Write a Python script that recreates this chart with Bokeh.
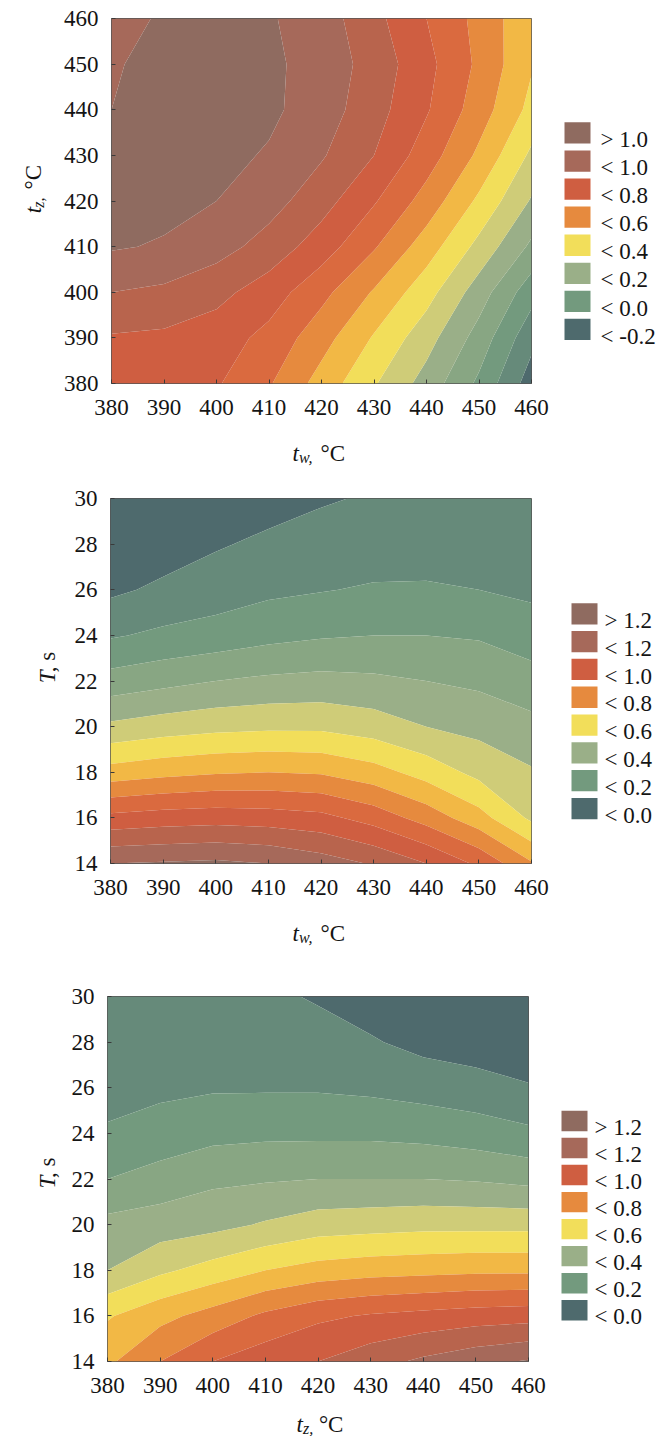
import numpy as np
from bokeh.plotting import figure
from bokeh.layouts import column, row
from bokeh.models import Range1d, FixedTicker
from bokeh.core.properties import value
from bokeh.embed import file_html
from bokeh.resources import INLINE

# ---------------- data ----------------
tw_values = [380, 390, 400, 410, 420, 430, 440, 450, 460]
tz_values = [380, 390, 400, 410, 420, 430, 440, 450, 460]
T_values = [14, 16, 18, 20, 22, 24, 26, 28, 30]

temp_ticks = [380, 390, 400, 410, 420, 430, 440, 450, 460]
T_ticks = [14, 16, 18, 20, 22, 24, 26, 28, 30]

# chart 1: rows = tz (380..460), columns = tw (380..460)
z_tw_tz = [
    [0.74, 0.73, 0.71, 0.61, 0.46, 0.31, 0.16, -0.02, -0.25],
    [0.79, 0.78, 0.75, 0.67, 0.54, 0.39, 0.24, 0.06, -0.17],
    [0.90, 0.88, 0.83, 0.75, 0.63, 0.49, 0.34, 0.15, -0.06],
    [1.01, 0.99, 0.94, 0.86, 0.75, 0.61, 0.45, 0.27, 0.08],
    [1.03, 1.03, 1.00, 0.94, 0.84, 0.71, 0.56, 0.38, 0.19],
    [1.02, 1.04, 1.03, 0.99, 0.91, 0.80, 0.65, 0.48, 0.28],
    [1.00, 1.04, 1.05, 1.02, 0.95, 0.84, 0.71, 0.55, 0.37],
    [0.99, 1.03, 1.04, 1.02, 0.96, 0.86, 0.73, 0.58, 0.41],
    [0.97, 1.01, 1.02, 1.01, 0.95, 0.83, 0.70, 0.57, 0.42],
]

# chart 2: rows = T (14..30), columns = tw (380..460)
z_tw_T = [
    [1.20, 1.21, 1.22, 1.20, 1.15, 1.09, 1.00, 0.88, 0.71],
    [0.93, 0.95, 0.96, 0.95, 0.93, 0.86, 0.76, 0.64, 0.48],
    [0.64, 0.67, 0.69, 0.70, 0.69, 0.64, 0.56, 0.47, 0.41],
    [0.42, 0.45, 0.47, 0.48, 0.48, 0.45, 0.40, 0.37, 0.33],
    [0.24, 0.27, 0.30, 0.32, 0.33, 0.32, 0.30, 0.28, 0.24],
    [0.09, 0.12, 0.14, 0.17, 0.19, 0.20, 0.20, 0.19, 0.15],
    [-0.02, 0.02, 0.05, 0.08, 0.095, 0.11, 0.11, 0.10, 0.08],
    [-0.10, -0.05, -0.01, 0.02, 0.04, 0.05, 0.06, 0.05, 0.05],
    [-0.15, -0.11, -0.07, -0.04, -0.01, 0.01, 0.03, 0.03, 0.04],
]

# chart 3: rows = T (14..30), columns = tz (380..460)
z_tz_T = [
    [0.68, 0.80, 0.90, 0.96, 1.00, 1.06, 1.12, 1.17, 1.21],
    [0.59, 0.67, 0.74, 0.82, 0.88, 0.91, 0.93, 0.95, 0.96],
    [0.40, 0.48, 0.54, 0.60, 0.64, 0.66, 0.67, 0.68, 0.68],
    [0.33, 0.35, 0.37, 0.41, 0.45, 0.46, 0.47, 0.47, 0.47],
    [0.20, 0.24, 0.28, 0.29, 0.30, 0.30, 0.30, 0.29, 0.27],
    [0.11, 0.14, 0.17, 0.18, 0.18, 0.18, 0.17, 0.15, 0.12],
    [0.07, 0.08, 0.09, 0.09, 0.09, 0.08, 0.06, 0.04, 0.01],
    [0.04, 0.05, 0.06, 0.05, 0.04, 0.01, -0.03, -0.05, -0.08],
    [0.03, 0.04, 0.04, 0.02, -0.01, -0.05, -0.10, -0.12, -0.14],
]

levels_tw_tz = [-1.0, -0.2, -0.1, 0.0, 0.1, 0.2, 0.3, 0.4, 0.5, 0.6, 0.7, 0.8, 0.9, 1.0, 2.0]
levels_T = [-1.0, 0.0, 0.1, 0.2, 0.3, 0.4, 0.5, 0.6, 0.7, 0.8, 0.9, 1.0, 1.1, 1.2, 2.0]

legend_tw_tz = ["> 1.0", "< 1.0", "< 0.8", "< 0.6", "< 0.4", "< 0.2", "< 0.0", "< -0.2"]
legend_T = ["> 1.2", "< 1.2", "< 1.0", "< 0.8", "< 0.6", "< 0.4", "< 0.2", "< 0.0"]

# ---------------- style ----------------
BAND_COLORS = ["#4E6A6D", "#668A7A", "#739A7E", "#88A683", "#9AAF88", "#CFCC78",
               "#F2DE5A", "#F2B845", "#E68A3E", "#DA6A3F", "#CF5E41", "#B8644D",
               "#A6695A", "#8F6B60"]
LEGEND_BANDS = [13, 12, 10, 8, 6, 4, 2, 0]

FONT = "Liberation Serif"
FS = "23px"
SUB_FS = "16px"
INK = "#141414"


def style_axis(ax, ticks, standoff):
    ax.ticker = FixedTicker(ticks=ticks)
    ax.axis_line_color = None
    ax.major_tick_in = 4
    ax.major_tick_out = 0
    ax.major_tick_line_color = "#3a3a3a"
    ax.minor_tick_line_color = None
    ax.major_label_text_font = FONT
    ax.major_label_text_font_size = FS
    ax.major_label_text_color = INK
    ax.major_label_standoff = standoff


def bare_fig(w, h):
    f = figure(width=w, height=h, x_range=Range1d(0, w), y_range=Range1d(0, h),
               output_backend="svg", toolbar_location=None,
               x_axis_type=None, y_axis_type=None, min_border=0,
               outline_line_color=None)
    f.grid.visible = False
    return f


def main_fig(xv, yv, z, levels, xticks, yticks, height, bl, bt):
    p = figure(width=bl + 421 + 20, height=height,
               x_range=Range1d(xv[0], xv[-1]), y_range=Range1d(yv[0], yv[-1]),
               output_backend="svg", toolbar_location=None,
               min_border_left=bl, min_border_right=20,
               min_border_top=bt, min_border_bottom=46)
    p.grid.visible = False
    p.outline_line_color = "#555555"
    p.outline_line_width = 1
    p.background_fill_color = "white"
    p.border_fill_color = "white"
    p.contour(x=xv, y=yv, z=np.array(z, dtype=float), levels=levels,
              fill_color=BAND_COLORS, line_color=None)
    style_axis(p.xaxis[0], xticks, 16)
    style_axis(p.yaxis[0], yticks, 13)
    return p


def label_fig(w, h, pieces, angle=0.0):
    f = bare_fig(w, h)
    for text, x, y, italic, size in pieces:
        f.text(x=[x], y=[y], text=[text], angle=angle,
               text_font=value(FONT), text_font_size=size,
               text_font_style="italic" if italic else "normal",
               text_color=INK, text_align="left", text_baseline="alphabetic")
    return f


def legend_fig(h, labels, sw_left, first_top, pitch, text_x):
    # legend keys: swatch boxes (26 x 25 px) and their texts
    f = bare_fig(115, h)
    tops = [h - (first_top + pitch * i) for i in range(len(labels))]
    bottoms = [t - 25 for t in tops]
    colors = [BAND_COLORS[b] for b in LEGEND_BANDS]
    f.quad(left=[sw_left] * len(labels), right=[sw_left + 26] * len(labels),
           top=tops, bottom=bottoms, fill_color=colors, line_color=None)
    f.text(x=[text_x] * len(labels), y=[t - 12.5 - 7.8 for t in tops], text=labels,
           text_font=value(FONT), text_font_size=FS, text_color=INK,
           text_align="left", text_baseline="alphabetic")
    return f


# ---------------- chart 1 ----------------
m1 = main_fig(tw_values, tz_values, z_tw_tz, levels_tw_tz, temp_ticks, temp_ticks,
              429, 50, 18)
y1 = label_fig(60, 429, [("t", 33, 200, True, FS), ("z,", 37.5, 206.5, True, SUB_FS),
                         ("°C", 33, 228, False, FS)], angle=np.pi / 2)
l1 = legend_fig(429, legend_tw_tz, 13, 122, 33.0, 49)
x1 = label_fig(670, 51, [("t", 292, 27, True, FS), ("w,", 298.5, 23, True, SUB_FS),
                         ("°C", 320, 27, False, FS)])

# ---------------- chart 2 ----------------
m2 = main_fig(tw_values, T_values, z_tw_T, levels_T, temp_ticks, T_ticks,
              429, 50, 18)
y2 = label_fig(60, 429, [("T", 47, 211.9, True, FS), (", s", 47, 224.7, False, FS)],
               angle=np.pi / 2)
l2 = legend_fig(429, legend_T, 20, 123, 32.7, 53)
x2 = label_fig(670, 51, [("t", 292, 27, True, FS), ("w,", 298.5, 23, True, SUB_FS),
                         ("°C", 320, 27, False, FS)])

# ---------------- chart 3 ----------------
m3 = main_fig(tz_values, T_values, z_tz_T, levels_T, temp_ticks, T_ticks,
              447, 47, 36)
y3 = label_fig(60, 447, [("T", 47, 211.9, True, FS), (", s", 47, 224.7, False, FS)],
               angle=np.pi / 2)
l3 = legend_fig(447, legend_T, 13, 140, 33.1, 46)
x3 = label_fig(670, 29, [("t", 296, 12, True, FS), ("z,", 302.4, 8, True, SUB_FS),
                         ("°C", 318.4, 12, False, FS)])

layout = column(row(y1, m1, l1), x1, row(y2, m2, l2), x2, row(y3, m3, l3), x3)
open("out.html", "w").write(file_html(layout, INLINE, "contours"))
